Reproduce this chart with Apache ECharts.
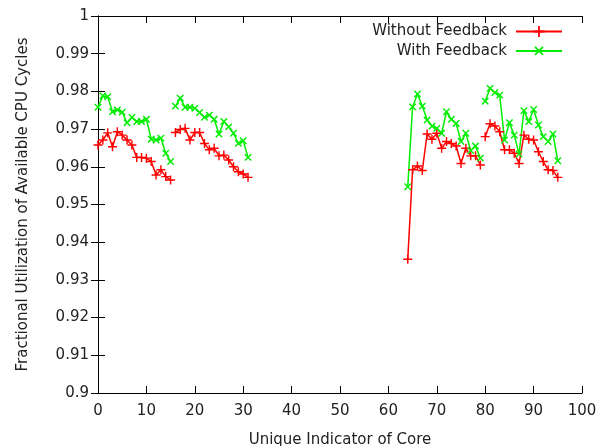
<!DOCTYPE html>
<html>
<head>
<meta charset="utf-8">
<script src="https://cdn.jsdelivr.net/npm/echarts@6/dist/echarts.min.js"></script>
<style>html,body{margin:0;padding:0;background:#fff}#c{width:610px;height:446px}</style>
</head>
<body>
<div id="c"></div>
<script>
// Core groups (start index of each 16-core block)
const groupStarts = [0, 16, 64, 80];

// Without Feedback
const withoutG1 = [0.9658,0.9671,0.9690,0.9653,0.9693,0.9684,0.9671,0.9658,0.9625,0.9625,0.9623,0.9614,0.9578,0.9592,0.9574,0.9565];
const withoutG2 = [0.9691,0.9699,0.9702,0.9671,0.9691,0.9691,0.9662,0.9645,0.9649,0.9629,0.9631,0.9618,0.9600,0.9587,0.9581,0.9572];
const withoutG3 = [0.9355,0.9592,0.9602,0.9590,0.9687,0.9673,0.9689,0.9649,0.9667,0.9662,0.9655,0.9609,0.9649,0.9629,0.9629,0.9605];
const withoutG4 = [0.9680,0.9714,0.9708,0.9693,0.9645,0.9645,0.9636,0.9609,0.9684,0.9673,0.9671,0.9640,0.9614,0.9592,0.9590,0.9572];

// With Feedback
const withG1 = [0.9758,0.9788,0.9786,0.9746,0.9751,0.9745,0.9717,0.9731,0.9720,0.9720,0.9726,0.9673,0.9671,0.9676,0.9636,0.9614];
const withG2 = [0.9761,0.9782,0.9758,0.9758,0.9755,0.9744,0.9731,0.9737,0.9726,0.9687,0.9720,0.9706,0.9689,0.9662,0.9669,0.9625];
const withG3 = [0.9547,0.9759,0.9793,0.9761,0.9724,0.9708,0.9702,0.9689,0.9746,0.9726,0.9715,0.9667,0.9689,0.9643,0.9655,0.9623];
const withG4 = [0.9774,0.9808,0.9797,0.9790,0.9671,0.9717,0.9684,0.9634,0.9749,0.9720,0.9752,0.9711,0.9680,0.9667,0.9687,0.9616];

const xTicks = [0,10,20,30,40,50,60,70,80,90,100];
const yTicks = [0.9,0.91,0.92,0.93,0.94,0.95,0.96,0.97,0.98,0.99,1];

function build(groups){
  const out = [];
  groups.forEach((g, gi) => {
    const s = groupStarts[gi];
    g.forEach((v, i) => out.push([s + i, v]));
    out.push([s + g.length - 0.5, null]);
  });
  return out;
}

const plusPath = 'path://M0,4.2 L10,4.2 L10,5.8 L0,5.8 Z M4.2,0 L5.8,0 L5.8,10 L4.2,10 Z';
const font = 'DejaVu Sans';
const fs = 15;

const chart = echarts.init(document.getElementById('c'), null, {renderer:'canvas'});
const axisLineStyle = {color:'#000', width:1};
chart.setOption({
  animation:false,
  backgroundColor:'#fff',
  grid:{left:98, right:28, top:16, bottom:53, containLabel:false, outerBoundsMode:'none'},
  legend:{
    orient:'vertical', right:42, top:19, align:'right',
    itemWidth:46, itemHeight:14, itemGap:4,
    textStyle:{fontFamily:font, fontSize:fs, color:'#222', lineHeight:14, padding:[0,4,0,0]},
    data:['Without Feedback','With Feedback']
  },
  xAxis:[{
    type:'value', min:0, max:100, interval:10,
    name:'Unique Indicator of Core', nameLocation:'middle', nameGap:40,
    nameTextStyle:{fontFamily:font, fontSize:fs, color:'#222'},
    axisLine:{show:true, lineStyle:axisLineStyle},
    axisTick:{show:true, inside:true, length:7, lineStyle:{color:'#000'}},
    axisLabel:{fontFamily:font, fontSize:fs, color:'#222', margin:11,
      formatter:v => xTicks.includes(v) ? String(v) : ''},
    splitLine:{show:false}
  },{
    type:'value', min:0, max:100, interval:10, position:'top',
    axisLine:{show:true, lineStyle:axisLineStyle},
    axisTick:{show:true, inside:true, length:7, lineStyle:{color:'#000'}},
    axisLabel:{show:false}, splitLine:{show:false}
  }],
  yAxis:[{
    type:'value', min:0.9, max:1, interval:0.01,
    name:'Fractional Utilization of Available CPU Cycles', nameLocation:'middle', nameGap:67,
    nameTextStyle:{fontFamily:font, fontSize:fs, color:'#222'},
    axisLine:{show:true, lineStyle:axisLineStyle},
    axisTick:{show:true, inside:true, length:7, lineStyle:{color:'#000'}},
    axisLabel:{fontFamily:font, fontSize:fs, color:'#222', margin:9,
      formatter:v => { const t = yTicks.find(k => Math.abs(k - v) < 1e-9); return t === undefined ? '' : String(t); }},
    splitLine:{show:false}
  },{
    type:'value', min:0.9, max:1, interval:0.01, position:'right',
    axisLine:{show:true, lineStyle:axisLineStyle},
    axisTick:{show:true, inside:true, length:7, lineStyle:{color:'#000'}},
    axisLabel:{show:false}, splitLine:{show:false}
  }],
  series:[{
    name:'Without Feedback', type:'line', xAxisIndex:0, yAxisIndex:0,
    data:build([withoutG1, withoutG2, withoutG3, withoutG4]),
    connectNulls:false,
    symbol:plusPath, symbolSize:9, showAllSymbol:true,
    lineStyle:{color:'#ff0000', width:1.5},
    itemStyle:{color:'#ff0000'}
  },{
    name:'With Feedback', type:'line', xAxisIndex:0, yAxisIndex:0,
    data:build([withG1, withG2, withG3, withG4]),
    connectNulls:false,
    symbol:plusPath, symbolRotate:45, symbolSize:9, showAllSymbol:true,
    lineStyle:{color:'#00ee00', width:1.5},
    itemStyle:{color:'#00ee00'}
  }]
});
</script>
</body>
</html>
